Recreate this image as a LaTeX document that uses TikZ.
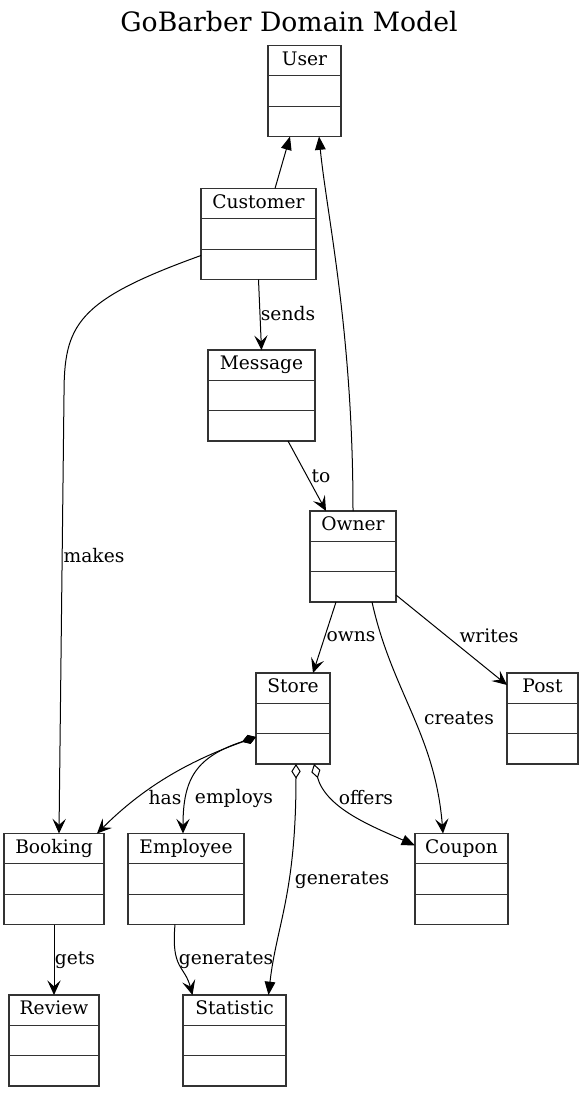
\documentclass[tikz,border=0pt]{standalone}
\usepackage{fontspec}
\setmainfont{DejaVu Serif}
\usetikzlibrary{arrows.meta, calc, positioning}
\tikzset{
		class box/.style={
			draw=black!80,
			line width=0.8pt,
			minimum height=68.25pt,
			inner sep=0pt,
			outer sep=0pt
		},
		class name/.style={
			anchor=north,
			minimum height=22.5pt,
			inner sep=0pt,
			text height=10pt,
			text depth=3pt,
			font=\fontsize{14pt}{17pt}\selectfont
		},
		rel label/.style={
			inner sep=1pt,
			font=\fontsize{14pt}{17pt}\selectfont
		},
		assoc/.style={
			-{Stealth[length=11pt, width=10pt, inset=4.5pt]},
			line width=0.75pt
		},
		inherit/.style={
			-{Triangle[length=10pt, width=8pt]},
			line width=0.75pt
		},
		compose/.style={
			{Diamond[length=11pt, width=7pt]}-{Stealth[length=11pt, width=10pt, inset=4.5pt]},
			line width=0.75pt
		},
		aggregate/.style={
			{Diamond[open, length=11pt, width=7pt]}-{Triangle[length=10pt, width=8pt]},
			line width=0.75pt
		}
	}
% name, centre, width, title
\newcommand{\umlclass}[4]{%
	\node[class box, minimum width=#3*0.75pt] (#1) at (#2) {};
	\node[class name] (#1-t) at (#1.north) {#4};
	\draw[line width=0.8pt, black!80] ($(#1.north west)!1/3!(#1.south west)$) -- ($(#1.north east)!1/3!(#1.south east)$);
	\draw[line width=0.8pt, black!80] ($(#1.north west)!2/3!(#1.south west)$) -- ($(#1.north east)!2/3!(#1.south east)$);
}
\begin{document}
\begin{tikzpicture}[x=0.75pt, y=-0.75pt]
			\useasboundingbox (0,0) rectangle (584,1093);
			\node[font=\fontsize{20pt}{24pt}\selectfont] (title) at (289,22) {GoBarber Domain Model};
			% classes
			\umlclass{user}{304.5,91}{73}{User}
			\umlclass{customer}{258.5,234}{115}{Customer}
			\umlclass{message}{261.5,395.5}{107}{Message}
			\umlclass{owner}{353,556.5}{86}{Owner}
			\umlclass{store}{293,718.5}{74}{Store}
			\umlclass{post}{542.5,718.5}{71}{Post}
			\umlclass{booking}{54,879}{100}{Booking}
			\umlclass{employee}{186,879}{116}{Employee}
			\umlclass{coupon}{461.5,879}{93}{Coupon}
			\umlclass{review}{54,1040.5}{90}{Review}
			\umlclass{statistic}{234.5,1040.5}{103}{Statistic}
			% inheritance
			\draw[inherit] ($(customer.north)+(16.5,0)$) -- ($(user.south)+(-14.5,0)$);
			\draw[inherit] (owner.north) .. controls +(0,-180) and +(8,80) .. ($(user.south)+(14.5,0)$);
			% associations
			\coordinate (makesbend) at (64,395);
			\coordinate (storeleft) at ($(store.south west)+(0,-27)$);
			\draw[assoc] (customer.south) -- (message.north);
			\draw[assoc] ($(message.south)+(26.5,0)$) -- ($(owner.north)+(-27,0)$);
			\draw[assoc] ($(customer.south west)+(0,-24)$) .. controls +(-125,45) and +(0,-70) .. (makesbend)
				-- ($(booking.north)+(5,0)$);
			\draw[assoc] ($(owner.south)+(-17,0)$) -- ($(store.north)+(20,0)$);
			\draw[assoc] ($(owner.south east)+(0,-7)$) -- ($(post.north west)+(0,12)$);
			\draw[assoc] ($(owner.south)+(19,0)$) .. controls +(20,90) and +(-8,-100) .. ($(coupon.north)+(-18.5,0)$);
			\draw[compose] (storeleft) .. controls +(-70,25) and +(45,-45) .. ($(booking.north east)+(-7,0)$);
			\draw[compose] (storeleft) .. controls +(-60,20) and +(0,-55) .. ($(employee.north)+(-3,0)$);
			\draw[aggregate] ($(store.south)+(3,0)$) .. controls +(0,130) and +(8,-70) .. ($(statistic.north)+(34,0)$);
			\draw[aggregate] ($(store.south)+(21,0)$) .. controls +(12,45) and +(-40,-18) .. ($(coupon.north west)+(0,12)$);
			\draw[assoc] (booking.south) -- (review.north);
			\draw[assoc] ($(employee.south)+(-11,0)$) .. controls +(-4,45) and +(-8,-30) .. ($(statistic.north)+(-42,0)$);
			% labels
			\node[rel label] (l-sends) at (288,314) {sends};
			\node[rel label] (l-to) at (321,476) {to};
			\node[rel label] (l-makes) at (94,556) {makes};
			\node[rel label] (l-owns) at (351,637) {owns};
			\node[rel label] (l-writes) at (489,636) {writes};
			\node[rel label] (l-creates) at (459,718) {creates};
			\node[rel label] (l-has) at (165,798) {has};
			\node[rel label] (l-employs) at (234,798) {employs};
			\node[rel label] (l-offers) at (366,798) {offers};
			\node[rel label] (l-gen1) at (342,880) {generates};
			\node[rel label] (l-gets) at (75,960) {gets};
			\node[rel label] (l-gen2) at (226,960) {generates};
\end{tikzpicture}
\end{document}
